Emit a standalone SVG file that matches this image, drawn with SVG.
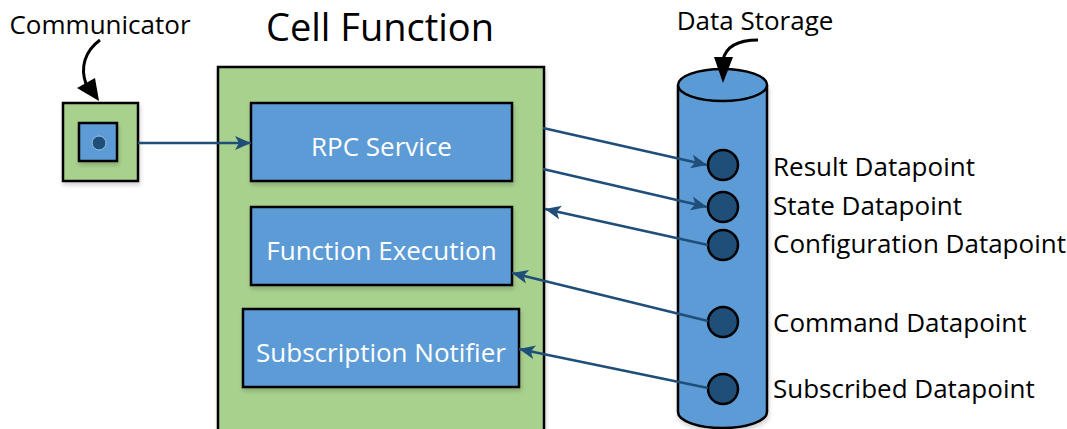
<svg xmlns="http://www.w3.org/2000/svg" width="1067" height="429" viewBox="0 0 1067 429">
  <style>
    .lbl { font-family: "Open Sans", "Liberation Sans", sans-serif; font-size: 26px; fill: #000; }
    .title { font-family: "Open Sans", "Liberation Sans", sans-serif; font-size: 38px; fill: #000; text-anchor: middle; }
    .box { fill: #5B9BD5; stroke: #000; stroke-width: 2.5; filter: url(#shadow); }
    .frame { fill: #A9D18E; stroke: #000; stroke-width: 2.5; }
    .boxtxt { font-family: "Open Sans", "Liberation Sans", sans-serif; font-size: 26px; fill: #fff; text-anchor: middle; }
    .dp { fill: #1F4E79; stroke: #000; stroke-width: 2.5; }
    .link { fill: none; stroke: #1F4E79; stroke-width: 2.5; marker-end: url(#blueHead); }
    .callout { fill: none; stroke: #000; stroke-width: 3; }
  </style>
  <defs>
    <filter id="shadow" x="-10%" y="-10%" width="125%" height="130%">
      <feDropShadow dx="1" dy="3" stdDeviation="2" flood-color="#000" flood-opacity="0.18"/>
    </filter>
    <marker id="blueHead" markerUnits="userSpaceOnUse" markerWidth="18" markerHeight="16" refX="16" refY="7" orient="auto">
      <path d="M0,0 L16,7 L0,14 L4,7 Z" fill="#1F4E79"/>
    </marker>
  </defs>

  <!-- Communicator -->
  <g id="communicator">
    <text class="lbl" x="100" y="34" text-anchor="middle">Communicator</text>
    <rect class="frame" x="63" y="103" width="75" height="78" filter="url(#shadow)"/>
    <rect class="box" x="79" y="123" width="38" height="38"/>
    <circle cx="99" cy="143" r="7" fill="#1F4E79" stroke="#9DC3E6" stroke-width="1"/>
  </g>

  <!-- Cell Function container -->
  <g id="cell-function">
    <text class="title" x="380" y="41">Cell Function</text>
    <rect class="frame" x="218" y="67" width="326" height="365" filter="url(#shadow)"/>
  </g>

  <g id="rpc-service">
    <rect class="box" x="251" y="103" width="261" height="78"/>
    <text class="boxtxt" x="381.5" y="156">RPC Service</text>
  </g>

  <g id="function-execution">
    <rect class="box" x="251" y="207" width="261" height="78"/>
    <text class="boxtxt" x="381.5" y="260">Function Execution</text>
  </g>

  <g id="subscription-notifier">
    <rect class="box" x="243" y="309" width="276" height="78"/>
    <text class="boxtxt" x="381" y="362">Subscription Notifier</text>
  </g>

  <!-- Data Storage cylinder -->
  <g id="data-storage">
    <text class="lbl" x="755" y="30" text-anchor="middle">Data Storage</text>
    <path d="M678,85 L678,412 A44.5,16 0 0 0 767,412 L767,85" fill="#5B9BD5" stroke="#000" stroke-width="2.5" filter="url(#shadow)"/>
    <ellipse cx="722.5" cy="85" rx="44.5" ry="16" fill="#5B9BD5" stroke="#000" stroke-width="2.5"/>
  </g>

  <g id="result-datapoint">
    <circle class="dp" cx="723" cy="165" r="15"/>
    <text class="lbl" x="773" y="176">Result Datapoint</text>
  </g>
  <g id="state-datapoint">
    <circle class="dp" cx="723" cy="207" r="15"/>
    <text class="lbl" x="773" y="215">State Datapoint</text>
  </g>
  <g id="configuration-datapoint">
    <circle class="dp" cx="723" cy="245" r="15"/>
    <text class="lbl" x="773" y="253">Configuration Datapoint</text>
  </g>
  <g id="command-datapoint">
    <circle class="dp" cx="723" cy="322" r="15"/>
    <text class="lbl" x="773" y="332">Command Datapoint</text>
  </g>
  <g id="subscribed-datapoint">
    <circle class="dp" cx="723" cy="389" r="15"/>
    <text class="lbl" x="773" y="398">Subscribed Datapoint</text>
  </g>

  <!-- Connectors -->
  <g id="connectors">
    <!-- callout pointers with heavy black heads -->
    <path class="callout" d="M100,40 C85,51 80,67 86,84"/>
    <polygon points="99,101 77,88 95,78" fill="#000"/>
    <path class="callout" d="M758,40 C738,40 726,46 723,60"/>
    <polygon points="723,83 714,57 733,57" fill="#000"/>
    <!-- data flows -->
    <path class="link" d="M138,143 L251,143"/>
    <path class="link" d="M543,128 L707,165"/>
    <path class="link" d="M543,169 L707,207"/>
    <path class="link" d="M708,245 L545,209"/>
    <path class="link" d="M708,321 L512,273"/>
    <path class="link" d="M708,388 L519,349"/>
  </g>
</svg>
